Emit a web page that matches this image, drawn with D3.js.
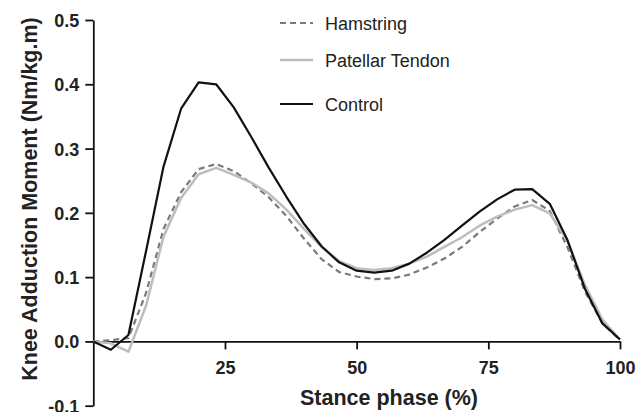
<!DOCTYPE html>
<html>
<head>
<meta charset="utf-8">
<script src="https://cdn.jsdelivr.net/npm/d3@7/dist/d3.min.js"></script>
<style>
  body { margin: 0; background: #fff; }
  text { font-family: 'Liberation Sans', Arial, Helvetica, sans-serif; }
  .axis text { font-size: 18px; font-weight: bold; fill: #222; }
  .axis path, .axis line { stroke: #111; stroke-width: 1.8; }
  .axisLabel { font-size: 21.5px; font-weight: bold; fill: #222; }
  .legend text { font-size: 18px; fill: #222; }
</style>
</head>
<body>
<div id="canvas"></div>
<script>
// stance phase, sampled every 1/30 of stance
var phase = d3.range(31).map(function(i){ return i * 100 / 30; });

var hamstring = [0, 0.002, 0.005, 0.075, 0.175, 0.232, 0.268, 0.276, 0.265, 0.246,
  0.224, 0.195, 0.160, 0.128, 0.108, 0.101, 0.097, 0.098, 0.104, 0.115,
  0.129, 0.147, 0.170, 0.191, 0.210, 0.220, 0.203, 0.147, 0.078, 0.028, 0.002];

var patellar = [0, -0.003, -0.016, 0.055, 0.163, 0.223, 0.260, 0.270, 0.259, 0.247,
  0.230, 0.205, 0.175, 0.147, 0.125, 0.114, 0.111, 0.114, 0.121, 0.132,
  0.147, 0.162, 0.180, 0.194, 0.205, 0.212, 0.199, 0.157, 0.088, 0.034, 0.003];

var control = [0, -0.013, 0.010, 0.140, 0.272, 0.362, 0.403, 0.400, 0.364, 0.318,
  0.270, 0.225, 0.183, 0.148, 0.123, 0.110, 0.107, 0.110, 0.121, 0.138,
  0.158, 0.180, 0.202, 0.221, 0.236, 0.237, 0.214, 0.158, 0.082, 0.028, 0.003];

var seriesNames = ['Hamstring', 'Patellar Tendon', 'Control'];
var xTicks = [25, 50, 75, 100];
var yTicks = [-0.1, 0, 0.1, 0.2, 0.3, 0.4, 0.5];

var W = 644, H = 412;
var m = {t: 20, r: 24, b: 6.3, l: 93.3};

var svg = d3.select('#canvas')
  .append('svg')
  .attr('width', W)
  .attr('height', H);

var x = d3.scaleLinear().domain([0, 100]).range([m.l, W - m.r]);
var y = d3.scaleLinear().domain([-0.1, 0.5]).range([H - m.b, m.t]);

// Axes
var yAxis = svg.append('g').attr('class', 'axis')
  .attr('transform', 'translate(' + m.l + ',0)')
  .call(d3.axisLeft(y).tickValues(yTicks)
    .tickFormat(function(d){ return d.toFixed(1); })
    .tickSize(8).tickSizeOuter(0).tickPadding(6));
yAxis.selectAll('.tick text').attr('dy', '0.36em');

var xAxis = svg.append('g').attr('class', 'axis')
  .attr('transform', 'translate(0,' + y(0) + ')')
  .call(d3.axisBottom(x).tickValues(xTicks)
    .tickSize(8).tickSizeOuter(0).tickPadding(12));
xAxis.selectAll('.tick text').attr('dy', '0.71em');

// Axis labels
svg.append('text')
  .attr('class', 'axisLabel')
  .attr('x', 389)
  .attr('y', 405)
  .style('text-anchor', 'middle')
  .text('Stance phase (%)');

svg.append('text')
  .attr('class', 'axisLabel')
  .attr('transform', 'translate(36.5,199) rotate(-90)')
  .style('text-anchor', 'middle')
  .text('Knee Adduction Moment (Nm/kg.m)');

// Lines
var line = d3.line()
  .x(function(d, i){ return x(phase[i]); })
  .y(function(d){ return y(d); });

var styles = [
  {data: hamstring, stroke: '#7a7a7a', width: 2.2, dash: '6,4'},
  {data: patellar, stroke: '#bdbdbd', width: 2.5, dash: null},
  {data: control, stroke: '#111', width: 2.2, dash: null}
];

styles.forEach(function(s){
  svg.append('path')
    .datum(s.data)
    .attr('d', line)
    .attr('fill', 'none')
    .attr('stroke', s.stroke)
    .attr('stroke-width', s.width)
    .attr('stroke-linejoin', 'round')
    .attr('stroke-dasharray', s.dash);
});

// Legend
var legendY = [23, 60, 104];
var legend = svg.append('g').attr('class', 'legend');
seriesNames.forEach(function(name, i){
  legend.append('line')
    .attr('x1', 280).attr('x2', 313)
    .attr('y1', legendY[i]).attr('y2', legendY[i])
    .attr('stroke', styles[i].stroke)
    .attr('stroke-width', styles[i].width)
    .attr('stroke-dasharray', styles[i].dash);
  legend.append('text')
    .attr('x', 325)
    .attr('y', legendY[i] + 7)
    .text(name);
});
</script>
</body>
</html>
